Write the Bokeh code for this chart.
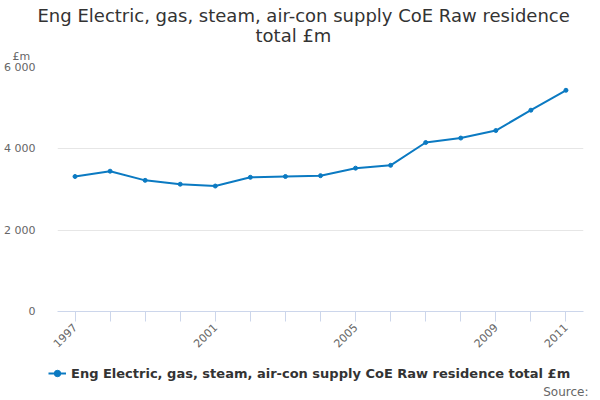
import math
from bokeh.plotting import figure
from bokeh.layouts import column
from bokeh.models import (Range1d, FixedTicker, Title, Legend, LegendItem, Label)
from bokeh.embed import file_html
from bokeh.resources import INLINE

years = list(range(1997, 2012))
values = [3320, 3450, 3225, 3130, 3085, 3300, 3320, 3340, 3525, 3595,
          4155, 4265, 4450, 4950, 5440]
y_ticks = [0, 2000, 4000, 6000]
y_tick_labels = ["0", "2 000", "4 000", "6 000"]
x_labelled = [1997, 2001, 2005, 2009, 2011]
series_name = "Eng Electric, gas, steam, air-con supply CoE Raw residence total £m"
title_lines = ["Eng Electric, gas, steam, air-con supply CoE Raw residence", "total £m"]
unit_label = "£m"
source_text = "Source:"

FONT = "DejaVu Sans"
LINE_COLOR = "#0b7ac2"

p = figure(width=600, height=355, output_backend="svg", toolbar_location=None,
           x_range=Range1d(1996.5, 2011.5), y_range=Range1d(0, 6000),
           min_border_left=57, min_border_right=17, min_border_top=67,
           min_border_bottom=44, title=None)
p.outline_line_color = None
p.background_fill_color = "white"
p.border_fill_color = "white"
p.frame_align = False

# above panels: closest to frame first
p.add_layout(Title(text=unit_label, align="left", offset=-45, text_font=FONT,
                   text_font_size="11px", text_font_style="normal",
                   text_color="#666666", standoff=10), "above")
p.add_layout(Title(text=title_lines[1], align="left", offset=198, text_font=FONT,
                   text_font_size="18px", text_font_style="normal",
                   text_color="#333333", standoff=-6), "above")
p.add_layout(Title(text=title_lines[0], align="left", offset=-20, text_font=FONT,
                   text_font_size="18px", text_font_style="normal",
                   text_color="#333333", standoff=0), "above")

r_line = p.line(years, values, line_color=LINE_COLOR, line_width=2)
r_pts = p.scatter(years, values, size=4, color=LINE_COLOR)

# axes
xa = p.xaxis[0]
xa.ticker = FixedTicker(ticks=years)
xa.major_label_overrides = {y: (str(y) if y in x_labelled else "") for y in years}
xa.major_label_orientation = math.pi / 4
xa.axis_line_color = "#ccd6eb"
xa.major_tick_line_color = "#ccd6eb"
xa.major_tick_out = 10
xa.major_tick_in = 0
xa.minor_tick_line_color = None
xa.major_label_text_font = FONT
xa.major_label_text_font_size = "11px"
xa.major_label_text_color = "#666666"
xa.major_label_standoff = 4

ya = p.yaxis[0]
ya.ticker = FixedTicker(ticks=y_ticks)
ya.major_label_overrides = {t: l for t, l in zip(y_ticks, y_tick_labels)}
ya.axis_line_color = None
ya.major_tick_line_color = None
ya.minor_tick_line_color = None
ya.major_label_text_font = FONT
ya.major_label_text_font_size = "11px"
ya.major_label_text_color = "#666666"
ya.major_label_standoff = 16

p.xgrid.grid_line_color = None
p.ygrid.grid_line_color = "#e6e6e6"

# footer with legend and source (series drawn off-range; only its legend shows)
f = figure(width=600, height=45, output_backend="svg", toolbar_location=None,
           x_range=Range1d(0, 1), y_range=Range1d(0, 1),
           x_axis_location=None, y_axis_location=None,
           min_border_left=0, min_border_right=0, min_border_top=0,
           min_border_bottom=0, title=None)
f.outline_line_color = None
f.grid.visible = False
f.frame_align = False
lg_line = f.line(years, values, line_color=LINE_COLOR, line_width=2)
lg_pts = f.scatter(years, values, size=3, color=LINE_COLOR)

legend = Legend(items=[LegendItem(label=series_name, renderers=[lg_line, lg_pts])],
                location=(48, 19), orientation="vertical",
                label_text_font=FONT, label_text_font_size="13px",
                label_text_font_style="bold", label_text_color="#333333",
                border_line_color=None, background_fill_alpha=0,
                padding=2, margin=0, glyph_width=18, glyph_height=16,
                label_height=16, label_standoff=5)
f.add_layout(legend, "center")

f.add_layout(Label(x=588, y=9, x_units="screen", y_units="screen", text=source_text,
                   text_align="right", text_baseline="middle", text_font=FONT,
                   text_font_size="12px", text_color="#666666"))

open("out.html", "w").write(file_html(column(p, f, spacing=0), INLINE))
